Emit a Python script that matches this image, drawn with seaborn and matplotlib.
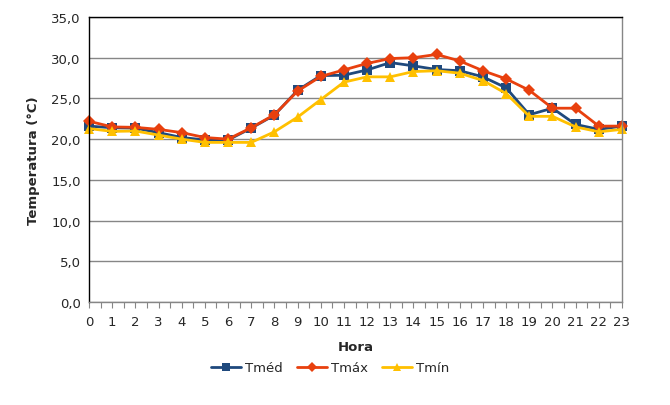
import matplotlib
matplotlib.use("Agg")
from matplotlib import pyplot as plt
from matplotlib.ticker import FuncFormatter, MultipleLocator
import pandas as pd
import seaborn as sns

hours = list(range(24))
tmed = [21.6, 21.4, 21.35, 20.8, 20.2, 19.9, 19.9, 21.35, 22.95, 26.0, 27.8, 27.85,
        28.5, 29.4, 29.0, 28.55, 28.4, 27.65, 26.3, 23.0, 23.8, 21.8, 21.2, 21.6]
tmax = [22.2, 21.5, 21.45, 21.2, 20.8, 20.2, 20.0, 21.4, 23.0, 25.9, 27.7, 28.5,
        29.3, 29.9, 30.0, 30.4, 29.6, 28.4, 27.4, 26.0, 23.8, 23.8, 21.6, 21.6]
tmin = [21.3, 20.95, 21.0, 20.5, 20.0, 19.6, 19.6, 19.6, 20.9, 22.7, 24.85, 27.0,
        27.65, 27.65, 28.3, 28.4, 28.1, 27.2, 25.6, 22.8, 22.8, 21.5, 20.9, 21.2]
series_names = ["Tméd", "Tmáx", "Tmín"]

# long-form table for seaborn
df = pd.DataFrame({
    "Hora": hours * 3,
    "Temp": tmed + tmax + tmin,
    "Serie": [s for s in series_names for _ in hours],
})

colors = {"Tméd": "#1F497D", "Tmáx": "#E8400E", "Tmín": "#FFC000"}
markers = {"Tméd": "s", "Tmáx": "D", "Tmín": "^"}
msize = {"Tméd": 6.5, "Tmáx": 6, "Tmín": 7.5}

sns.set_style("white")
plt.rcParams["font.family"] = ["DejaVu Sans"]

fig = plt.figure(figsize=(6.7, 4.06), dpi=100)
ax = fig.add_axes([89 / 670, 1 - 303 / 406, (622 - 89) / 670, (303 - 18) / 406])

for name in series_names:
    sub = df[df["Serie"] == name]
    sns.lineplot(data=sub, x="Hora", y="Temp", ax=ax, color=colors[name],
                 marker=markers[name], markersize=msize[name], markeredgewidth=0,
                 linewidth=2.0, label=name, clip_on=False)

ax.set_xlim(0, 23)
ax.set_ylim(0, 35)
ax.yaxis.set_major_locator(MultipleLocator(5))
ax.yaxis.set_major_formatter(FuncFormatter(lambda v, p: f"{v:.1f}".replace(".", ",")))
ax.xaxis.set_major_locator(MultipleLocator(1))
ax.xaxis.set_minor_locator(MultipleLocator(0.5))
ax.xaxis.set_ticks_position("bottom")
ax.grid(axis="y", color="#868686", linewidth=1.0)
ax.set_axisbelow(True)

ax.tick_params(axis="x", which="both", direction="out", length=4, width=0.8,
               color="#868686", labelsize=9.5, pad=5)
ax.tick_params(axis="y", which="both", length=0, labelsize=9.5, pad=6,
               left=False, right=False)

for side in ["top", "left"]:
    ax.spines[side].set_color("black")
    ax.spines[side].set_linewidth(1.0)
for side in ["right", "bottom"]:
    ax.spines[side].set_color("#868686")
    ax.spines[side].set_linewidth(1.0)

ax.set_xlabel("Hora", fontsize=9.5, fontweight="bold", labelpad=9)
ax.set_ylabel("Temperatura (°C)", fontsize=9.5, fontweight="bold", labelpad=8)

leg = ax.legend(loc="center", bbox_to_anchor=(330 / 670, 1 - 369 / 406),
                bbox_transform=fig.transFigure, ncol=3, frameon=False, fontsize=9.5,
                handlelength=2.3, handletextpad=0.25, columnspacing=1.1,
                markerscale=0.85)

fig.savefig("out.png", dpi=100)
